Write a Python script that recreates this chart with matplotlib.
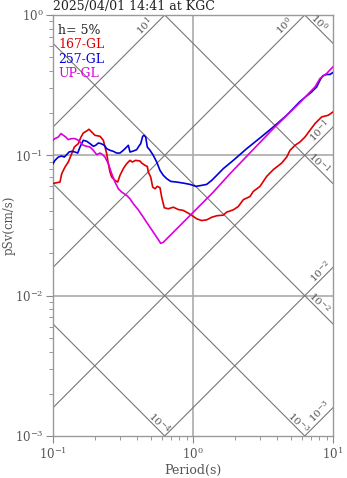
import numpy as np
import matplotlib
matplotlib.use("Agg")
import matplotlib.pyplot as plt
from matplotlib.ticker import LogLocator, NullFormatter

plt.rcParams['font.family'] = ['DejaVu Serif']
plt.rcParams['mathtext.fontset'] = 'dejavuserif'

# ---- data (period in s, pSv in cm/s) ----
t_167 = [0.100, 0.1063, 0.1122, 0.1154, 0.1218, 0.1286, 0.1360, 0.1420, 0.1516, 0.1585,
         0.1646, 0.1741, 0.1808, 0.1890, 0.1995, 0.2167, 0.2288, 0.2418, 0.2483, 0.2553,
         0.2626, 0.2773, 0.2899, 0.3010, 0.3178, 0.3361, 0.3548, 0.3685, 0.3896, 0.4182,
         0.4301, 0.4541, 0.4716, 0.4794, 0.4987, 0.5153, 0.5353, 0.5559, 0.5811, 0.5975,
         0.6237, 0.6663, 0.7232, 0.7852, 0.8523, 0.9256, 1.005, 1.063, 1.154, 1.253,
         1.360, 1.477, 1.646, 1.741, 1.941, 2.107, 2.288, 2.553, 2.696, 3.010,
         3.361, 3.747, 4.301, 4.669, 4.931, 5.353, 5.811, 6.310, 6.850, 7.437,
         8.306, 9.256, 10.0]
sv_167 = [0.0631, 0.0638, 0.0645, 0.0740, 0.0825, 0.0896, 0.1028, 0.1146, 0.1212, 0.1351,
          0.1443, 0.1491, 0.1534, 0.1467, 0.1389, 0.1367, 0.1280, 0.1028, 0.0873, 0.0760,
          0.0700, 0.0663, 0.0645, 0.0720, 0.0804, 0.0873, 0.0921, 0.0896, 0.0921, 0.0911,
          0.0881, 0.0848, 0.0834, 0.0760, 0.0700, 0.0594, 0.0578, 0.0601, 0.0588, 0.0504,
          0.0423, 0.0416, 0.0427, 0.0411, 0.0405, 0.0387, 0.0367, 0.0353, 0.0343, 0.0347,
          0.0362, 0.0371, 0.0375, 0.0394, 0.0409, 0.0432, 0.0483, 0.0509, 0.0553, 0.0601,
          0.0708, 0.0791, 0.0881, 0.0972, 0.1086, 0.1179, 0.1245, 0.1351, 0.1509, 0.1684,
          0.1878, 0.1931, 0.2038]

t_257 = [0.100, 0.1033, 0.1091, 0.1154, 0.1204, 0.1253, 0.1301, 0.1360, 0.1436, 0.1501,
         0.1559, 0.1646, 0.1741, 0.1838, 0.1941, 0.2018, 0.2107, 0.2202, 0.2325, 0.2418,
         0.2553, 0.2696, 0.2851, 0.3010, 0.3178, 0.3361, 0.3451, 0.3548, 0.3746, 0.3961,
         0.4067, 0.4231, 0.4373, 0.4467, 0.4593, 0.4716, 0.4931, 0.5203, 0.5504, 0.5811,
         0.6137, 0.6490, 0.6930, 0.7648, 0.8523, 0.9519, 1.050, 1.154, 1.253, 1.360,
         1.477, 1.646, 1.838, 1.941, 2.418, 3.010, 3.747, 4.669, 5.811, 7.045,
         7.648, 8.074, 8.441, 9.016, 9.519, 10.0]
sv_257 = [0.0873, 0.0921, 0.0972, 0.0989, 0.0972, 0.1012, 0.1056, 0.1068, 0.1056, 0.1038,
          0.1146, 0.1280, 0.1259, 0.1212, 0.1160, 0.1179, 0.1224, 0.1212, 0.1179, 0.1116,
          0.1086, 0.1068, 0.1038, 0.1038, 0.1086, 0.1146, 0.1179, 0.1056, 0.1073, 0.1098,
          0.1146, 0.1212, 0.1367, 0.1389, 0.1351, 0.1146, 0.1086, 0.1000, 0.0896, 0.0781,
          0.0720, 0.0682, 0.0652, 0.0645, 0.0634, 0.0621, 0.0601, 0.0611, 0.0621, 0.0663,
          0.0720, 0.0804, 0.0881, 0.0921, 0.1116, 0.1330, 0.1593, 0.1931, 0.2420, 0.2832,
          0.3074, 0.3434, 0.3685, 0.3771, 0.3771, 0.3897]

t_up = [0.100, 0.1033, 0.1091, 0.1141, 0.1185, 0.1232, 0.1286, 0.1360, 0.1436, 0.1516,
        0.1585, 0.1646, 0.1741, 0.1838, 0.1941, 0.2051, 0.2167, 0.2250, 0.2352, 0.2483,
        0.2626, 0.2773, 0.2928, 0.3096, 0.3361, 0.3548, 0.3746, 0.4067, 0.4416, 0.4931,
        0.5504, 0.5878, 0.6137, 0.8075, 1.063, 1.396, 1.838, 2.418, 3.747, 5.811,
        7.437, 8.074, 9.016, 10.0]
sv_up = [0.1280, 0.1316, 0.1351, 0.1429, 0.1389, 0.1351, 0.1295, 0.1316, 0.1316, 0.1280,
         0.1224, 0.1179, 0.1160, 0.1146, 0.1086, 0.1012, 0.1038, 0.1017, 0.0972, 0.0873,
         0.0740, 0.0645, 0.0578, 0.0547, 0.0518, 0.0490, 0.0452, 0.0409, 0.0362, 0.0307,
         0.0261, 0.0236, 0.0240, 0.0316, 0.0416, 0.0547, 0.0740, 0.0984, 0.1551, 0.2379,
         0.3074, 0.3531, 0.3835, 0.4272]

series_names = ['167-GL', '257-GL', 'UP-GL']
series_colors = ['#dd0000', '#0000dd', '#dd00dd']

# tripartite guide lines: Sa (cm/s^2) rising, Sd (cm) falling
sa_levels = [10.0, 1.0, 0.1, 0.01, 0.001]
sd_levels = [1.0, 0.1, 0.01, 0.001, 0.0001]

title = '2025/04/01 14:41 at KGC'
damping = 'h= 5%'

TMIN, TMAX = 0.1, 10.0
VMIN, VMAX = 1e-3, 1.0

fig = plt.figure(figsize=(3.47, 4.78), dpi=100)
ax = fig.add_axes([53 / 347, 42 / 478, 280 / 347, 421 / 478])
ax.set_xscale('log')
ax.set_yscale('log')
ax.set_xlim(TMIN, TMAX)
ax.set_ylim(VMIN, VMAX)

grey_txt = '#555555'
diag_col = '#777777'
fs = 9

# major grid
for v in [0.01, 0.1]:
    ax.axhline(v, color='#aaaaaa', lw=1.2, zorder=1)
ax.axvline(1.0, color='#aaaaaa', lw=1.2, zorder=1)

T = np.logspace(-1, 1, 200)
lt0, lt1 = np.log10(TMIN), np.log10(TMAX)
lv0, lv1 = np.log10(VMIN), np.log10(VMAX)
dec = 1.0 / 140  # one pixel in decades

def lbl(e):
    return r'$10^{%d}$' % e

# rising lines: log Sv = log Sa + log T - log(2 pi)
for sa in sa_levels:
    ax.plot(T, sa * T / (2 * np.pi), color=diag_col, lw=0.8, zorder=2)
    c = np.log10(sa) - np.log10(2 * np.pi)
    x_top = lv1 - c
    if x_top < lt1:
        lx = x_top - 20 * dec
    else:
        lx = lt1 - 13 * dec
    ly = lx + c + 9 * dec
    ax.text(10 ** lx, 10 ** ly, lbl(round(np.log10(sa))), rotation=45,
            ha='center', va='center', fontsize=7.5, color=grey_txt, zorder=3)

# falling lines: log Sv = log Sd + log(2 pi) - log T
for sd in sd_levels:
    ax.plot(T, 2 * np.pi * sd / T, color=diag_col, lw=0.8, zorder=2)
    c = np.log10(sd) + np.log10(2 * np.pi)
    x_bot = c - lv0
    y_right = c - lt1
    if y_right > lv0:
        lx = lt1 - 14 * dec
    else:
        lx = x_bot - 6 * dec
    ly = c - lx + 7 * dec
    ax.text(10 ** lx, 10 ** ly, lbl(round(np.log10(sd))), rotation=-45,
            ha='center', va='center', fontsize=7.5, color=grey_txt, zorder=3)

# spectra
for t, sv, col in zip([t_167, t_257, t_up], [sv_167, sv_257, sv_up], series_colors):
    ax.plot(t, sv, color=col, lw=1.2, zorder=4)

# ticks / frame
ax.xaxis.set_major_locator(LogLocator(base=10, numticks=10))
ax.yaxis.set_major_locator(LogLocator(base=10, numticks=10))
ax.xaxis.set_minor_locator(LogLocator(base=10, subs=np.arange(2, 10), numticks=10))
ax.yaxis.set_minor_locator(LogLocator(base=10, subs=np.arange(2, 10), numticks=10))
ax.xaxis.set_minor_formatter(NullFormatter())
ax.yaxis.set_minor_formatter(NullFormatter())
ax.tick_params(which='major', length=5, width=0.8, color='#888888',
               labelsize=8.5, labelcolor=grey_txt, pad=2)
ax.tick_params(which='minor', length=3, width=0.6, color='#888888')
for s in ax.spines.values():
    s.set_color('#999999')
    s.set_linewidth(1.0)

ax.set_xlabel('Period(s)', fontsize=9, color=grey_txt, labelpad=2)
fig.text(9 / 347, 0.5 * (42 + 463) / 478, 'pSv(cm/s)', rotation=90, ha='center',
         va='center', fontsize=8.5, color=grey_txt)

ax.text(0.0, 1.013, title, transform=ax.transAxes, ha='left', va='baseline',
        fontsize=fs, color='#222222')

ax.text(0.018, 0.964, damping, transform=ax.transAxes, ha='left', va='center',
        fontsize=fs, color='#222222', zorder=5)
for i, (name, col) in enumerate(zip(series_names, series_colors)):
    ax.text(0.018, 0.929 - i * 0.0345, name, transform=ax.transAxes, ha='left',
            va='center', fontsize=fs, color=col, zorder=5)

fig.savefig('out.png', dpi=100)
